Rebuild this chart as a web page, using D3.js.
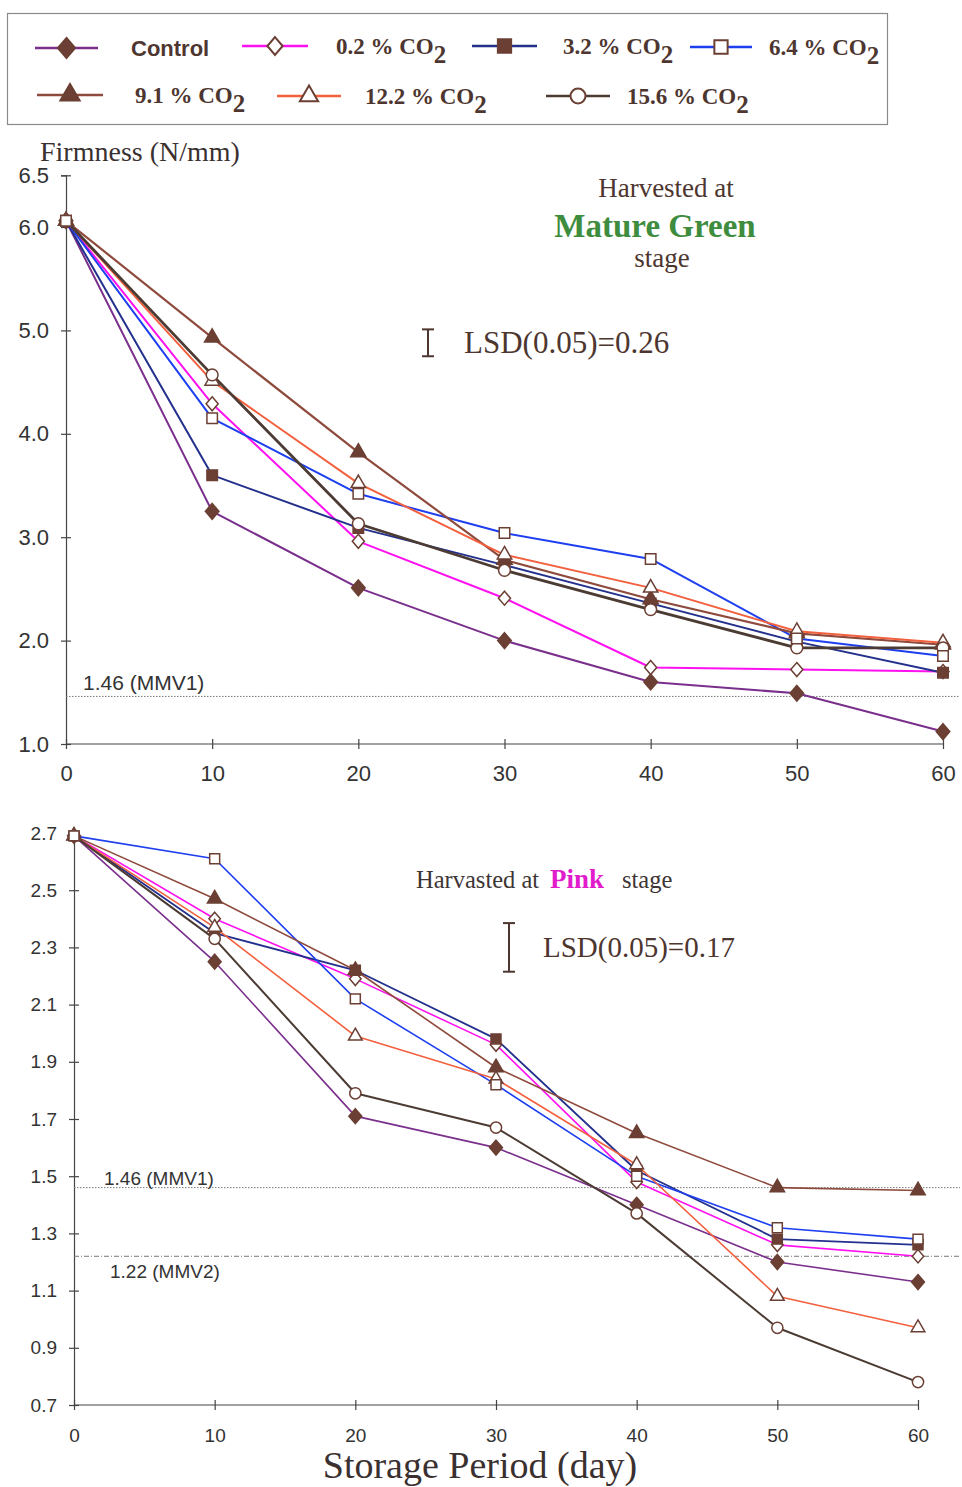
<!DOCTYPE html>
<html>
<head>
<meta charset="utf-8">
<script src="https://cdn.jsdelivr.net/npm/d3@7"></script>
<style>
  html, body { margin: 0; padding: 0; background: #fff; }
  svg { display: block; }
</style>
</head>
<body>
<svg id="chart" width="962" height="1487"></svg>
<script>
// Storage days
const days = [0, 10, 20, 30, 40, 50, 60];

// Treatment names
const treatments = ["Control", "0.2 % CO", "3.2 % CO", "6.4 % CO", "9.1 % CO", "12.2 % CO", "15.6 % CO"];

// Firmness (N/mm), fruit harvested at mature green stage
const mgControl = [6.06, 3.25, 2.51, 2.00, 1.60, 1.49, 1.12];
const mg02      = [6.06, 4.29, 2.96, 2.41, 1.74, 1.72, 1.70];
const mg32      = [6.06, 3.60, 3.09, 2.73, 2.36, 1.99, 1.69];
const mg64      = [6.06, 4.15, 3.42, 3.04, 2.79, 2.02, 1.85];
const mg91      = [6.06, 4.93, 3.82, 2.78, 2.40, 2.07, 1.96];
const mg122     = [6.06, 4.51, 3.52, 2.83, 2.51, 2.09, 1.98];
const mg156     = [6.06, 4.57, 3.13, 2.68, 2.30, 1.93, 1.93];

// Firmness (N/mm), fruit harvested at pink stage
const pkControl = [2.69, 2.25, 1.71, 1.60, 1.40, 1.20, 1.13];
const pk02      = [2.69, 2.40, 2.19, 1.96, 1.48, 1.26, 1.22];
const pk32      = [2.69, 2.35, 2.22, 1.98, 1.52, 1.28, 1.26];
const pk64      = [2.69, 2.61, 2.12, 1.82, 1.50, 1.32, 1.28];
const pk91      = [2.69, 2.47, 2.22, 1.88, 1.65, 1.46, 1.45];
const pk122     = [2.69, 2.37, 1.99, 1.84, 1.54, 1.08, 0.97];
const pk156     = [2.69, 2.33, 1.79, 1.67, 1.37, 0.97, 0.78];

// Tick labels
const mgTicks = [1.0, 2.0, 3.0, 4.0, 5.0, 6.0, 6.5];
const pkTicks = [0.7, 0.9, 1.1, 1.3, 1.5, 1.7, 1.9, 2.1, 2.3, 2.5, 2.7];
const xTicks  = [0, 10, 20, 30, 40, 50, 60];

// Reference values
const mmv1 = 1.46;
const mmv2 = 1.22;
const lsdMG = 0.26;
const lsdPK = 0.17;

// ---- styling per treatment ----
const markerStroke = "#6b3f33";
// diamond a little taller than wide
const diamond = {
  draw(ctx, size) {
    const w = Math.sqrt(size) * 0.62, h = Math.sqrt(size) * 0.72;
    ctx.moveTo(0, -h); ctx.lineTo(w, 0); ctx.lineTo(0, h); ctx.lineTo(-w, 0); ctx.closePath();
  }
};
const styles = [
  { line: "#7a2f8c", symbol: diamond,           filled: true,  size: 120 },
  { line: "#ff10f0", symbol: diamond,           filled: false, size: 95 },
  { line: "#23308c", symbol: d3.symbolSquare,   filled: true,  size: 110 },
  { line: "#1e3ff0", symbol: d3.symbolSquare,   filled: false, size: 110 },
  { line: "#8e4a3c", symbol: d3.symbolTriangle, filled: true,  size: 100 },
  { line: "#f2603e", symbol: d3.symbolTriangle, filled: false, size: 90 },
  { line: "#4b3b33", symbol: d3.symbolCircle,   filled: false, size: 110 }
];
// marker drawing order (open squares end up on top)
const markerOrder = [0, 1, 2, 4, 5, 6, 3];

const svg = d3.select("#chart");
const SANS = "'Liberation Sans', Arial, sans-serif";
const SERIF = "'Liberation Serif', 'Times New Roman', serif";

// ---- legend ----
const legend = svg.append("g");
legend.append("rect")
  .attr("x", 7.5).attr("y", 13.5).attr("width", 880).attr("height", 111)
  .attr("fill", "none").attr("stroke", "#8a8a8a").attr("stroke-width", 1.2);

const legendPos = [
  { x1: 35,  x2: 98,  y: 48, tx: 131 },
  { x1: 242, x2: 308, y: 46, tx: 336 },
  { x1: 472, x2: 537, y: 46, tx: 563 },
  { x1: 690, x2: 752, y: 47, tx: 769 },
  { x1: 37,  x2: 103, y: 95, tx: 135 },
  { x1: 277, x2: 341, y: 96, tx: 365 },
  { x1: 546, x2: 610, y: 96, tx: 627 }
];

treatments.forEach((name, i) => {
  const p = legendPos[i], s = styles[i];
  const g = legend.append("g");
  g.append("line").attr("x1", p.x1).attr("x2", p.x2).attr("y1", p.y).attr("y2", p.y)
    .attr("stroke", s.line).attr("stroke-width", 2.5);
  g.append("path")
    .attr("d", d3.symbol(s.symbol, s.size * 1.6)())
    .attr("transform", `translate(${(p.x1 + p.x2) / 2},${p.y})`)
    .attr("fill", s.filled ? markerStroke : "#fff")
    .attr("stroke", markerStroke).attr("stroke-width", 2);
  const t = g.append("text").attr("x", p.tx).attr("y", p.y + 8)
    .attr("fill", "#4e3630").attr("font-weight", "bold");
  if (i === 0) {
    t.attr("font-family", SANS).attr("font-size", 22).text(name);
  } else {
    t.attr("font-family", SERIF).attr("font-size", 23);
    t.append("tspan").text(name);
    t.append("tspan").attr("dy", 9).attr("font-size", 25).text("2");
  }
});

// ---- generic panel ----
function drawPanel(cfg) {
  const x = d3.scaleLinear().domain([0, 60]).range([cfg.x0, cfg.x1]);
  const y = d3.scaleLinear().domain(cfg.yDomain).range([cfg.yBottom, cfg.yTop]);
  const g = svg.append("g");

  // axes
  const yAxis = d3.axisLeft(y).tickValues(cfg.yTicks).tickFormat(d3.format(".1f"))
    .tickSize(cfg.tick).tickPadding(cfg.yPad);
  const ya = g.append("g").attr("transform", `translate(${cfg.x0},0)`).call(yAxis);
  ya.select(".domain").attr("stroke", "#444").attr("stroke-width", 1.2);
  ya.selectAll(".tick line").attr("stroke", "#444").attr("stroke-width", 1.2)
    .attr("x2", cfg.tick).attr("x1", -cfg.tick);
  ya.selectAll("text").attr("font-family", SANS).attr("font-size", cfg.tickFont).attr("fill", "#333");

  const xAxis = d3.axisBottom(x).tickValues(xTicks).tickFormat(d3.format("d"))
    .tickSize(cfg.tick).tickPadding(cfg.xPad);
  const xa = g.append("g").attr("transform", `translate(0,${cfg.yBottom})`).call(xAxis);
  xa.select(".domain").attr("stroke", "#444").attr("stroke-width", 1.2)
    .attr("d", `M${cfg.x0},0H${cfg.xAxisEnd}`);
  xa.selectAll(".tick line").attr("stroke", "#444").attr("stroke-width", 1.2)
    .attr("y1", -cfg.tick).attr("y2", cfg.tick);
  xa.selectAll("text").attr("font-family", SANS).attr("font-size", cfg.tickFont).attr("fill", "#333");

  // reference lines
  cfg.refs.forEach(r => {
    g.append("line").attr("x1", cfg.x0).attr("x2", 960)
      .attr("y1", y(r.v)).attr("y2", y(r.v))
      .attr("stroke", "#777").attr("stroke-width", 1)
      .attr("stroke-dasharray", r.dash);
    g.append("text").attr("x", r.tx).attr("y", y(r.v) + r.dy)
      .attr("font-family", SANS).attr("font-size", cfg.refFont).attr("fill", "#333")
      .text(r.label);
  });

  // series lines
  const line = d3.line().x((d, j) => x(days[j])).y(d => y(d));
  cfg.series.forEach((vals, i) => {
    g.append("path").datum(vals).attr("d", line)
      .attr("fill", "none").attr("stroke", styles[i].line)
      .attr("stroke-width", cfg.lineW[i]).attr("stroke-linejoin", "round");
  });
  // markers
  markerOrder.forEach(i => {
    const vals = cfg.series[i], s = styles[i];
    g.selectAll(null).data(vals).enter().append("path")
      .attr("d", d3.symbol(s.symbol, s.size * cfg.mScale)())
      .attr("transform", (d, j) => `translate(${x(days[j])},${y(d)})`)
      .attr("fill", s.filled ? markerStroke : "#fff")
      .attr("stroke", markerStroke).attr("stroke-width", 1.5);
  });

  // LSD bar
  const ly0 = y(cfg.lsd.center - cfg.lsd.v / 2), ly1 = y(cfg.lsd.center + cfg.lsd.v / 2);
  const lb = g.append("g").attr("stroke", "#4e3630").attr("stroke-width", 2);
  lb.append("line").attr("x1", cfg.lsd.x).attr("x2", cfg.lsd.x).attr("y1", ly0).attr("y2", ly1);
  lb.append("line").attr("x1", cfg.lsd.x - 6).attr("x2", cfg.lsd.x + 6).attr("y1", ly0).attr("y2", ly0);
  lb.append("line").attr("x1", cfg.lsd.x - 6).attr("x2", cfg.lsd.x + 6).attr("y1", ly1).attr("y2", ly1);
  g.append("text").attr("x", cfg.lsd.tx).attr("y", (ly0 + ly1) / 2 + 10)
    .attr("font-family", SERIF).attr("font-size", cfg.lsd.font).attr("fill", "#4e3630")
    .text(`LSD(0.05)=${cfg.lsd.v.toFixed(2)}`);
  return { x, y, g };
}

// ---- mature green panel ----
drawPanel({
  x0: 66, x1: 943, xAxisEnd: 943, yTop: 175.3, yBottom: 744, yDomain: [1, 6.5],
  yTicks: mgTicks, tick: 5, yPad: 12, xPad: 16, tickFont: 22, refFont: 21, mScale: 1,
  series: [mgControl, mg02, mg32, mg64, mg91, mg122, mg156],
  lineW: [2, 2, 2, 2, 2.2, 2, 2.8],
  refs: [{ v: mmv1, label: "1.46 (MMV1)", tx: 83, dy: -6, dash: "1.5,1.5" }],
  lsd: { v: lsdMG, center: 4.88, x: 428, tx: 464, font: 31 }
});

svg.append("text").attr("x", 40).attr("y", 161)
  .attr("font-family", SERIF).attr("font-size", 28).attr("fill", "#3a3030")
  .text("Firmness (N/mm)");
svg.append("text").attr("x", 666).attr("y", 197).attr("text-anchor", "middle")
  .attr("font-family", SERIF).attr("font-size", 27).attr("fill", "#4e3630").text("Harvested at");
svg.append("text").attr("x", 655).attr("y", 237).attr("text-anchor", "middle")
  .attr("font-family", SERIF).attr("font-size", 33).attr("font-weight", "bold")
  .attr("fill", "#3e8c3e").text("Mature Green");
svg.append("text").attr("x", 662).attr("y", 267).attr("text-anchor", "middle")
  .attr("font-family", SERIF).attr("font-size", 27).attr("fill", "#4e3630").text("stage");

// ---- pink panel ----
drawPanel({
  x0: 74, x1: 918, xAxisEnd: 918, yTop: 833, yBottom: 1405, yDomain: [0.7, 2.7],
  yTicks: pkTicks, tick: 5, yPad: 12, xPad: 19, tickFont: 19, refFont: 19, mScale: 0.9,
  series: [pkControl, pk02, pk32, pk64, pk91, pk122, pk156],
  lineW: [1.6, 1.6, 1.8, 1.6, 1.6, 1.6, 2],
  refs: [
    { v: mmv1, label: "1.46 (MMV1)", tx: 104, dy: -3, dash: "1.5,1.5" },
    { v: mmv2, label: "1.22 (MMV2)", tx: 110, dy: 22, dash: "5,2,1,2" }
  ],
  lsd: { v: lsdPK, center: 2.30, x: 509, tx: 543, font: 29 }
});

const pt = svg.append("text").attr("x", 416).attr("y", 888)
  .attr("font-family", SERIF).attr("font-size", 24.5).attr("fill", "#3e3535");
pt.append("tspan").text("Harvasted at ");
pt.append("tspan").attr("x", 550).attr("font-size", 27).attr("font-weight", "bold")
  .attr("fill", "#e21ccc").text("Pink");
pt.append("tspan").attr("x", 622).text("stage");

svg.append("text").attr("x", 480).attr("y", 1478).attr("text-anchor", "middle")
  .attr("font-family", SERIF).attr("font-size", 38).attr("fill", "#3a3030")
  .text("Storage Period (day)");
</script>
</body>
</html>
